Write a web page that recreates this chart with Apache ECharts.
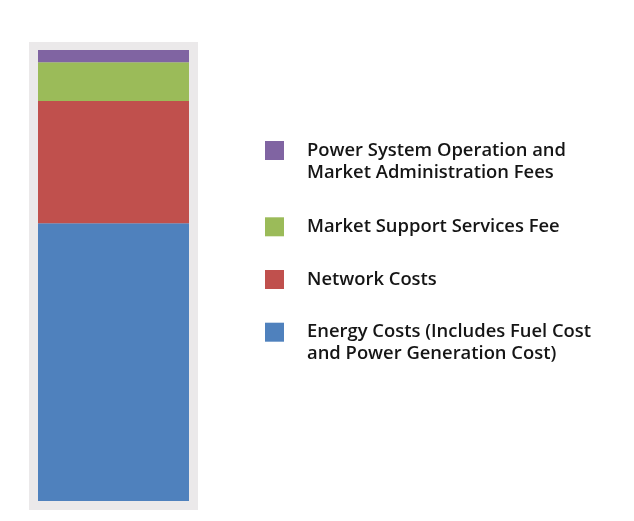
<!DOCTYPE html>
<html>
<head>
<meta charset="utf-8">
<script src="https://cdn.jsdelivr.net/npm/echarts@6/dist/echarts.min.js"></script>
<style>
html,body{margin:0;padding:0;background:#fff;}
#chart{width:634px;height:521px;}
</style>
</head>
<body>
<div id="chart"></div>
<script>
const categories = ['Total'];
const seriesNames = [
  'Energy Costs (Includes Fuel Cost\nand Power Generation Cost)',
  'Network Costs',
  'Market Support Services Fee',
  'Power System Operation and\nMarket Administration Fees'
];
const energyCosts = [61.6];
const networkCosts = [27.1];
const marketSupport = [8.6];
const psoFees = [2.7];
const seriesValues = [energyCosts, networkCosts, marketSupport, psoFees];
const colors = ['#4f81bd', '#c0504d', '#9bbb59', '#8064a2'];

// legend order top to bottom: purple, green, red, blue
const legendOrder = [3, 2, 1, 0];
const legendTops = [117.5, 215.8, 268.5, 299.2];

const chart = echarts.init(document.getElementById('chart'), null, {renderer: 'canvas'});

const legends = legendOrder.map((si, k) => {
  const twoLine = seriesNames[si].indexOf('\n') >= 0;
  return {
    data: [seriesNames[si]],
    left: 265,
    top: legendTops[k],
    orient: 'vertical',
    icon: 'rect',
    itemWidth: 19,
    itemHeight: 19,
    padding: 0,
    selectedMode: false,
    // a leading blank line keeps the first text line level with the square
    formatter: twoLine ? (name) => '\n' + name : (name) => name,
    textStyle: {
      fontFamily: 'Open Sans',
      fontWeight: 600,
      fontSize: 18.4,
      lineHeight: 22,
      color: '#151515',
      padding: [0, 0, 0, 18]
    }
  };
});

chart.setOption({
  animation: false,
  backgroundColor: '#ffffff',
  graphic: [{
    type: 'rect',
    z: -10,
    shape: {x: 29, y: 42, width: 169, height: 468},
    style: {fill: '#ebe9ea'},
    silent: true
  }],
  legend: legends,
  grid: {left: 38, top: 50, width: 151, height: 451, containLabel: false},
  xAxis: {
    type: 'category',
    data: categories,
    show: false
  },
  yAxis: {
    type: 'value',
    min: 0,
    max: 100,
    show: false
  },
  series: seriesValues.map((vals, i) => ({
    name: seriesNames[i],
    type: 'bar',
    stack: 'total',
    barWidth: '100%',
    data: vals,
    itemStyle: {color: colors[i]},
    emphasis: {disabled: true}
  }))
});
</script>
</body>
</html>
